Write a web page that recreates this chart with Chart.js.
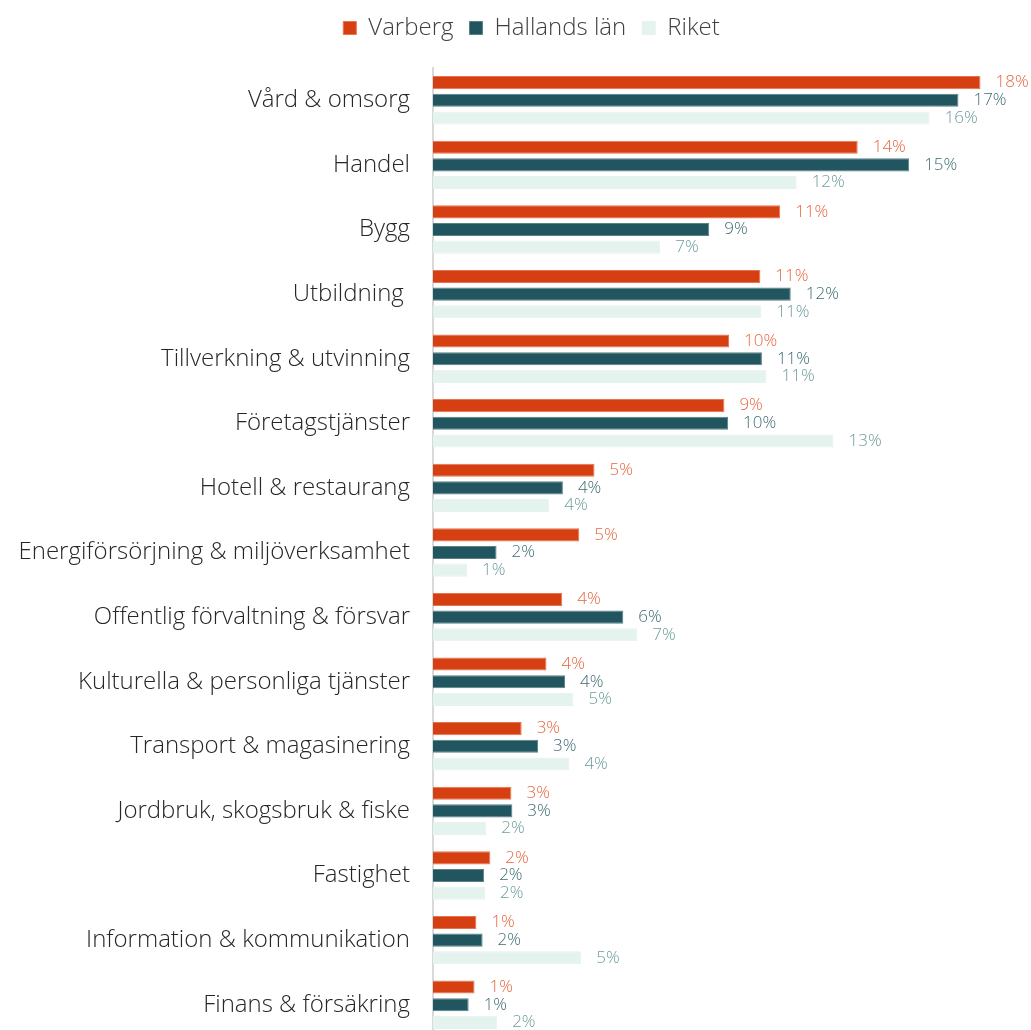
<!DOCTYPE html>
<html>
<head>
<meta charset="utf-8">
<script src="https://cdn.jsdelivr.net/npm/chart.js@4"></script>
<style>
  html, body { margin: 0; padding: 0; background: #fff; overflow: hidden; }
</style>
</head>
<body>
<canvas id="graf" width="1031" height="1037"></canvas>
<script>
// Branscher
const branscher = [
  "Vård & omsorg",
  "Handel",
  "Bygg",
  "Utbildning ",
  "Tillverkning & utvinning",
  "Företagstjänster",
  "Hotell & restaurang",
  "Energiförsörjning & miljöverksamhet",
  "Offentlig förvaltning & försvar",
  "Kulturella & personliga tjänster",
  "Transport & magasinering",
  "Jordbruk, skogsbruk & fiske",
  "Fastighet",
  "Information & kommunikation",
  "Finans & försäkring",
];

// Andel sysselsatta (%)
const varberg = [17.66, 13.70, 11.20, 10.56, 9.55, 9.40, 5.21, 4.72, 4.17, 3.66, 2.86, 2.53, 1.85, 1.40, 1.34];
const hallandsLan = [16.95, 15.36, 8.91, 11.54, 10.61, 9.52, 4.19, 2.05, 6.14, 4.26, 3.39, 2.56, 1.65, 1.60, 1.15];
const riket = [16.02, 11.73, 7.33, 10.59, 10.76, 12.92, 3.75, 1.10, 6.59, 4.53, 4.40, 1.72, 1.68, 4.78, 2.07];

const etikettFarger = ["#e8673f", "#3f6c72", "#6f9c9e"];
const typsnitt = "'Open Sans', Lato, sans-serif";

// Skriv procent efter varje stapel
const etiketter = {
  id: "etiketter",
  afterDatasetsDraw(chart) {
    const ctx = chart.ctx;
    ctx.save();
    ctx.font = "300 17px " + typsnitt;
    ctx.textBaseline = "middle";
    ctx.textAlign = "left";
    chart.data.datasets.forEach((ds, i) => {
      const meta = chart.getDatasetMeta(i);
      ctx.fillStyle = etikettFarger[i];
      meta.data.forEach((bar, j) => {
        ctx.fillText(Math.round(ds.data[j]) + "%", bar.x + 15, bar.y);
      });
    });
    ctx.restore();
  },
};

// Lite extra luft under legenden, och legenden lite åt höger
const legendLuft = {
  id: "legendLuft",
  beforeInit(chart) {
    const fit = chart.legend.fit;
    chart.legend.fit = function () {
      fit.bind(chart.legend)();
      this.height += 18;
    };
  },
  afterLayout(chart) {
    chart.legend.left += 16;
    chart.legend.right += 16;
  },
};

const config = {
  type: "bar",
  data: {
    labels: branscher,
    datasets: [
      {
        label: "Varberg",
        data: varberg,
        backgroundColor: "#d63f11",
        borderColor: "#e8734f",
        borderWidth: 1,
      },
      {
        label: "Hallands län",
        data: hallandsLan,
        backgroundColor: "#215660",
        borderColor: "#5a8088",
        borderWidth: 1,
      },
      {
        label: "Riket",
        data: riket,
        backgroundColor: "#e5f3ef",
        borderColor: "#e5f3ef",
        borderWidth: 1,
      },
    ],
  },
  options: {
    indexAxis: "y",
    responsive: false,
    animation: false,
    barPercentage: 0.74,
    categoryPercentage: 0.82,
    layout: { padding: 0 },
    plugins: {
      tooltip: { enabled: false },
      legend: {
        position: "top",
        labels: {
          boxWidth: 13,
          boxHeight: 13,
          padding: 16,
          color: "#404040",
          font: { family: typsnitt, size: 24, weight: "300" },
        },
      },
    },
    scales: {
      x: {
        display: false,
        min: 0,
        max: 19.29,
      },
      y: {
        grid: { display: false, drawTicks: false },
        border: { display: true, color: "#d9d9d9", width: 2 },
        ticks: {
          padding: 23,
          color: "#262626",
          font: { family: typsnitt, size: 24, weight: "300" },
        },
        afterFit(scale) {
          scale.width = 433;
          scale.paddingTop = 0;
          scale.paddingBottom = 0;
        },
      },
    },
  },
  plugins: [etiketter, legendLuft],
};

const grafen = new Chart(document.getElementById("graf"), config);
</script>
</body>
</html>
